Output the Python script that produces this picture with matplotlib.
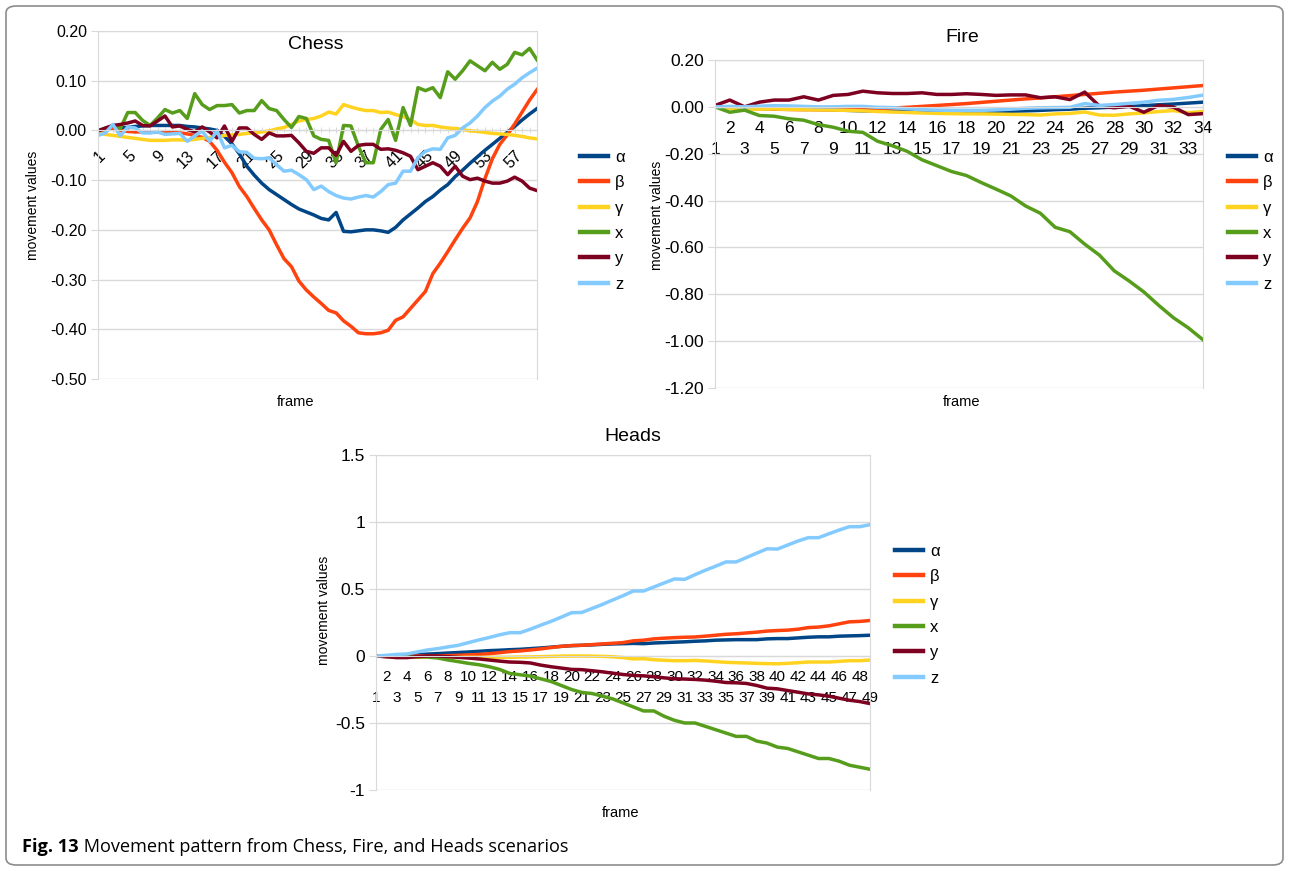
import numpy as np
import matplotlib.pyplot as plt
from matplotlib.patches import FancyBboxPatch

# Series names and colours
names = ['α', 'β', 'γ', 'x', 'y', 'z']
colors = ['#004586', '#ff420e', '#ffd320', '#579d1c', '#7e0021', '#83caff']

# Chess scenario, frames 1..60
chess_alpha = [0.0, 0.002, 0.004, 0.005, 0.006, 0.008, 0.009, 0.01, 0.01, 0.01,
               0.01, 0.01, 0.008, 0.007, 0.005, 0.003, 0.0, -0.012, -0.027, -0.047,
               -0.072, -0.09, -0.106, -0.119, -0.129, -0.139, -0.149, -0.158, -0.164, -0.17,
               -0.177, -0.18, -0.165, -0.203, -0.204, -0.202, -0.2, -0.2, -0.202, -0.205,
               -0.195, -0.18, -0.168, -0.156, -0.143, -0.133, -0.12, -0.109, -0.093, -0.08,
               -0.066, -0.053, -0.04, -0.028, -0.016, -0.004, 0.008, 0.021, 0.033, 0.044]
chess_beta = [0.0, 0.002, 0.003, 0.0, -0.002, -0.003, -0.003, -0.004, -0.003, -0.005,
              -0.004, -0.005, -0.007, -0.01, -0.014, -0.022, -0.04, -0.064, -0.085, -0.113,
              -0.133, -0.157, -0.18, -0.2, -0.23, -0.258, -0.274, -0.303, -0.321, -0.335,
              -0.348, -0.362, -0.367, -0.383, -0.394, -0.407, -0.409, -0.409, -0.407, -0.402,
              -0.382, -0.375, -0.358, -0.341, -0.324, -0.288, -0.267, -0.244, -0.22, -0.197,
              -0.176, -0.143, -0.097, -0.057, -0.028, -0.009, 0.013, 0.037, 0.061, 0.082]
chess_gamma = [-0.005, -0.008, -0.01, -0.012, -0.014, -0.016, -0.018, -0.02, -0.02, -0.02,
               -0.019, -0.019, -0.02, -0.018, -0.016, -0.014, -0.012, -0.01, -0.009, -0.008,
               -0.006, -0.005, -0.003, -0.001, 0.003, 0.006, 0.012, 0.019, 0.022, 0.024,
               0.029, 0.037, 0.033, 0.052, 0.047, 0.043, 0.04, 0.04, 0.036, 0.037,
               0.032, 0.028, 0.022, 0.012, 0.01, 0.01, 0.007, 0.005, 0.004, 0.002,
               -0.001, -0.002, -0.004, -0.006, -0.007, -0.008, -0.01, -0.012, -0.015, -0.017]
chess_x = [0.0, 0.004, 0.01, 0.004, 0.036, 0.036, 0.02, 0.01, 0.025, 0.042,
           0.035, 0.04, 0.024, 0.074, 0.052, 0.042, 0.05, 0.05, 0.052, 0.035,
           0.04, 0.04, 0.06, 0.044, 0.04, 0.022, 0.006, 0.028, 0.024, -0.011,
           -0.018, -0.02, -0.065, 0.01, 0.009, -0.032, -0.065, -0.065, 0.002, 0.022,
           -0.02, 0.046, 0.01, 0.086, 0.08, 0.086, 0.066, 0.118, 0.103, 0.12,
           0.14, 0.13, 0.12, 0.137, 0.123, 0.133, 0.157, 0.152, 0.165, 0.142]
chess_y = [-0.001, 0.005, 0.01, 0.012, 0.015, 0.019, 0.01, 0.009, 0.019, 0.029,
           0.007, 0.009, 0.002, -0.003, 0.007, -0.003, -0.015, 0.009, -0.022, 0.005,
           0.005, -0.008, -0.018, -0.005, -0.011, -0.011, -0.01, -0.025, -0.042, -0.046,
           -0.035, -0.035, -0.05, -0.022, -0.042, -0.03, -0.028, -0.028, -0.038, -0.037,
           -0.04, -0.045, -0.052, -0.079, -0.072, -0.065, -0.072, -0.089, -0.072, -0.092,
           -0.099, -0.096, -0.102, -0.106, -0.106, -0.102, -0.094, -0.102, -0.116, -0.121]
chess_z = [-0.01, -0.005, 0.012, -0.011, 0.007, 0.005, -0.005, -0.005, -0.003, -0.008,
           -0.007, -0.006, -0.022, -0.011, -0.001, -0.022, -0.001, -0.035, -0.03, -0.043,
           -0.044, -0.056, -0.057, -0.055, -0.069, -0.082, -0.08, -0.089, -0.099, -0.119,
           -0.112, -0.123, -0.131, -0.136, -0.138, -0.134, -0.131, -0.134, -0.123, -0.109,
           -0.106, -0.082, -0.082, -0.055, -0.042, -0.037, -0.038, -0.015, -0.01, 0.005,
           0.015, 0.029, 0.046, 0.059, 0.069, 0.083, 0.093, 0.106, 0.116, 0.125]

# Fire scenario, frames 1..34
fire_alpha = [0.0, 0.0, -0.002, -0.004, -0.005, -0.007, -0.009, -0.011, -0.013, -0.015,
              -0.017, -0.018, -0.019, -0.02, -0.02, -0.021, -0.021, -0.021, -0.021, -0.02,
              -0.019, -0.017, -0.015, -0.012, -0.01, -0.006, -0.004, -0.001, 0.002, 0.005,
              0.009, 0.012, 0.016, 0.02]
fire_beta = [0.0, -0.003, -0.006, -0.008, -0.01, -0.011, -0.012, -0.012, -0.012, -0.011,
             -0.01, -0.008, -0.005, -0.002, 0.002, 0.006, 0.01, 0.014, 0.019, 0.024,
             0.029, 0.034, 0.038, 0.043, 0.048, 0.053, 0.058, 0.063, 0.067, 0.071,
             0.076, 0.081, 0.086, 0.091]
fire_gamma = [0.0, -0.006, -0.01, -0.01, -0.009, -0.011, -0.012, -0.013, -0.014, -0.015,
              -0.017, -0.02, -0.022, -0.024, -0.026, -0.028, -0.029, -0.03, -0.03, -0.031,
              -0.032, -0.033, -0.035, -0.03, -0.028, -0.022, -0.035, -0.036, -0.03, -0.026,
              -0.02, -0.016, -0.025, -0.02]
fire_x = [0.0, -0.023, -0.014, -0.037, -0.04, -0.051, -0.057, -0.076, -0.087, -0.104,
          -0.109, -0.147, -0.166, -0.19, -0.226, -0.251, -0.276, -0.293, -0.323, -0.351,
          -0.38, -0.423, -0.454, -0.514, -0.533, -0.586, -0.633, -0.7, -0.743, -0.79,
          -0.847, -0.9, -0.943, -0.994]
fire_y = [0.006, 0.029, 0.0, 0.02, 0.029, 0.029, 0.043, 0.029, 0.049, 0.053,
          0.067, 0.06, 0.057, 0.057, 0.06, 0.053, 0.053, 0.056, 0.053, 0.049,
          0.051, 0.051, 0.039, 0.043, 0.031, 0.063, 0.003, -0.004, 0.003, -0.023,
          0.006, -0.001, -0.033, -0.029]
fire_z = [0.0, 0.002, 0.0, 0.003, 0.005, 0.004, 0.002, 0.0, 0.0, 0.002,
          0.002, -0.002, -0.003, -0.008, -0.012, -0.014, -0.015, -0.015, -0.015, -0.013,
          -0.01, -0.006, -0.004, -0.003, -0.002, 0.014, 0.006, 0.01, 0.015, 0.02,
          0.028, 0.032, 0.04, 0.05]

# Heads scenario, frames 1..49
heads_alpha = [0.0, 0.0, 0.002, 0.005, 0.01, 0.014, 0.018, 0.022, 0.026, 0.03,
               0.035, 0.04, 0.043, 0.047, 0.05, 0.055, 0.06, 0.066, 0.072, 0.077,
               0.08, 0.083, 0.087, 0.09, 0.092, 0.094, 0.092, 0.097, 0.1, 0.103,
               0.106, 0.11, 0.113, 0.118, 0.12, 0.122, 0.122, 0.122, 0.128, 0.13,
               0.13, 0.135, 0.14, 0.143, 0.143, 0.148, 0.15, 0.152, 0.155]
heads_beta = [0.0, -0.005, -0.005, -0.003, 0.0, 0.0, 0.002, 0.003, 0.005, 0.008,
              0.012, 0.017, 0.025, 0.033, 0.038, 0.045, 0.053, 0.063, 0.072, 0.078,
              0.08, 0.085, 0.09, 0.095, 0.1, 0.113, 0.118, 0.128, 0.133, 0.137,
              0.14, 0.142, 0.148, 0.155, 0.162, 0.166, 0.172, 0.178, 0.186, 0.19,
              0.193, 0.2, 0.212, 0.216, 0.225, 0.24, 0.255, 0.258, 0.265]
heads_gamma = [0.0, -0.003, -0.006, -0.008, -0.01, -0.01, -0.01, -0.01, -0.01, -0.01,
               -0.01, -0.01, -0.01, -0.01, -0.008, -0.007, -0.005, -0.003, -0.001, 0.0,
               0.0, -0.001, -0.003, -0.006, -0.012, -0.022, -0.02, -0.028, -0.032, -0.035,
               -0.035, -0.033, -0.037, -0.042, -0.047, -0.05, -0.052, -0.055, -0.057, -0.058,
               -0.055, -0.05, -0.045, -0.045, -0.045, -0.04, -0.035, -0.035, -0.03]
heads_x = [0.0, -0.002, -0.004, -0.005, -0.006, -0.008, -0.015, -0.03, -0.042, -0.055,
           -0.065, -0.08, -0.1, -0.13, -0.14, -0.15, -0.17, -0.19, -0.22, -0.25,
           -0.272, -0.28, -0.3, -0.32, -0.35, -0.38, -0.41, -0.41, -0.45, -0.48,
           -0.5, -0.5, -0.525, -0.55, -0.575, -0.6, -0.6, -0.635, -0.65, -0.68,
           -0.69, -0.715, -0.74, -0.765, -0.765, -0.785, -0.815, -0.83, -0.845]
heads_y = [0.0, -0.005, -0.012, -0.012, -0.005, 0.0, 0.0, -0.005, -0.01, -0.015,
           -0.022, -0.03, -0.038, -0.045, -0.047, -0.052, -0.068, -0.08, -0.09, -0.1,
           -0.102, -0.11, -0.118, -0.128, -0.138, -0.145, -0.148, -0.155, -0.163, -0.17,
           -0.172, -0.175, -0.18, -0.188, -0.198, -0.2, -0.205, -0.22, -0.24, -0.245,
           -0.258, -0.27, -0.283, -0.29, -0.3, -0.315, -0.33, -0.34, -0.355]
heads_z = [0.0, 0.005, 0.012, 0.015, 0.03, 0.045, 0.055, 0.068, 0.08, 0.1,
           0.12, 0.138, 0.158, 0.174, 0.174, 0.2, 0.23, 0.258, 0.29, 0.323,
           0.325, 0.355, 0.385, 0.418, 0.45, 0.485, 0.485, 0.515, 0.545, 0.575,
           0.572, 0.607, 0.64, 0.67, 0.702, 0.702, 0.735, 0.768, 0.8, 0.798,
           0.828, 0.858, 0.883, 0.883, 0.912, 0.94, 0.965, 0.965, 0.98]

chess_yticks = [-0.5, -0.4, -0.3, -0.2, -0.1, 0.0, 0.1, 0.2]
fire_yticks = [-1.2, -1.0, -0.8, -0.6, -0.4, -0.2, 0.0, 0.2]
heads_yticks = [-1, -0.5, 0, 0.5, 1, 1.5]
heads_ylabels = ['-1', '-0.5', '0', '0.5', '1', '1.5']

grid_col = '#d9d9d9'
font_reg = ['Liberation Sans', 'DejaVu Sans']
font_cap = ['Open Sans', 'DejaVu Sans']
LW = 2.5

W, H = 1289, 871
fig = plt.figure(figsize=(W / 100, H / 100), dpi=100)


def px_axes(left, top, right, bottom):
    # axes from a pixel box of the picture
    return fig.add_axes([left / W, 1 - bottom / H, (right - left) / W, (bottom - top) / H])


def style_axes(ax, yticks, ylabels, tick_size):
    for side in ['left', 'right', 'top']:
        ax.spines[side].set_color(grid_col)
    ax.spines['bottom'].set_position(('data', 0))
    ax.spines['bottom'].set_color(grid_col)
    ax.set_yticks(yticks)
    ax.set_yticklabels(ylabels, fontfamily=font_reg, fontsize=tick_size)
    ax.tick_params(axis='y', length=5, color=grid_col, pad=3)
    ax.yaxis.grid(True, color=grid_col, linewidth=1)
    ax.set_axisbelow(True)


def add_legend(x_left, y_top):
    handles = [plt.Line2D([], [], color=c, lw=3.2) for c in colors]
    fig.legend(handles, names, loc='upper left', frameon=False,
               bbox_to_anchor=(x_left / W, 1 - y_top / H), bbox_transform=fig.transFigure,
               handlelength=1.7, handletextpad=0.4, labelspacing=0.62, borderaxespad=0,
               borderpad=0, prop={'family': font_reg, 'size': 12})


def staggered_labels(ax, frames, size):
    # even frames on the first row, odd frames on the second row
    ax.set_xticks(frames[1::2])
    ax.set_xticklabels([str(f) for f in frames[1::2]], fontfamily=font_reg, fontsize=size)
    ax.set_xticks(frames[0::2], minor=True)
    ax.set_xticklabels([str(f) for f in frames[0::2]], minor=True, fontfamily=font_reg, fontsize=size)
    ax.tick_params(axis='x', which='major', length=0, pad=10)
    ax.tick_params(axis='x', which='minor', length=0, pad=25)


# ---- Chess ----
ax1 = px_axes(98, 31, 537, 379)
frames_c = np.arange(1, len(chess_alpha) + 1)
for vals, c in zip([chess_alpha, chess_beta, chess_gamma, chess_x, chess_y, chess_z], colors):
    ax1.plot(frames_c, vals, color=c, lw=LW, solid_joinstyle='round')
ax1.set_xlim(1, len(frames_c))
ax1.set_ylim(-0.5, 0.2)
style_axes(ax1, chess_yticks, ['%.2f' % v for v in chess_yticks], 11.5)
ax1.set_xticks(frames_c[::4])
ax1.set_xticklabels([str(f) for f in frames_c[::4]], rotation=45, ha='right', va='top',
                    rotation_mode='anchor', fontfamily=font_reg, fontsize=11.5)
ax1.set_xticks(frames_c, minor=True)
ax1.tick_params(axis='x', which='both', length=5, direction='inout', color=grid_col, pad=10)
ax1.text(0.495, 0.985, 'Chess', transform=ax1.transAxes, ha='center', va='top',
         fontfamily=font_reg, fontsize=14)
fig.text(33 / W, 1 - 205 / H, 'movement values', rotation=90, ha='center', va='center',
         fontfamily=font_reg, fontsize=10)
fig.text(296 / W, 1 - 402 / H, 'frame', ha='center', va='center',
         fontfamily=font_reg, fontsize=10.5)
add_legend(580, 150)

# ---- Fire ----
ax2 = px_axes(715, 60, 1203, 388)
frames_f = np.arange(1, len(fire_alpha) + 1)
for vals, c in zip([fire_alpha, fire_beta, fire_gamma, fire_x, fire_y, fire_z], colors):
    ax2.plot(frames_f, vals, color=c, lw=LW, solid_joinstyle='round')
ax2.set_xlim(1, len(frames_f))
ax2.set_ylim(-1.2, 0.2)
style_axes(ax2, fire_yticks, ['%.2f' % v for v in fire_yticks], 12.5)
staggered_labels(ax2, frames_f, 12.5)
fig.text(962 / W, 1 - 38 / H, 'Fire', ha='center', va='center', fontfamily=font_reg, fontsize=14)
fig.text(657 / W, 1 - 215 / H, 'movement values', rotation=90, ha='center', va='center',
         fontfamily=font_reg, fontsize=10)
fig.text(962 / W, 1 - 402 / H, 'frame', ha='center', va='center',
         fontfamily=font_reg, fontsize=10.5)
add_legend(1228, 150)

# ---- Heads ----
ax3 = px_axes(376, 455, 870, 790)
frames_h = np.arange(1, len(heads_alpha) + 1)
for vals, c in zip([heads_alpha, heads_beta, heads_gamma, heads_x, heads_y, heads_z], colors):
    ax3.plot(frames_h, vals, color=c, lw=LW, solid_joinstyle='round')
ax3.set_xlim(1, len(frames_h))
ax3.set_ylim(-1, 1.5)
style_axes(ax3, heads_yticks, heads_ylabels, 12.5)
staggered_labels(ax3, frames_h, 11)
fig.text(633 / W, 1 - 436 / H, 'Heads', ha='center', va='center', fontfamily=font_reg, fontsize=14)
fig.text(324 / W, 1 - 610 / H, 'movement values', rotation=90, ha='center', va='center',
         fontfamily=font_reg, fontsize=10)
fig.text(621 / W, 1 - 813 / H, 'frame', ha='center', va='center',
         fontfamily=font_reg, fontsize=10.5)
add_legend(895, 544)

# ---- caption and frame ----
t1 = fig.text(22 / W, 1 - 847 / H, 'Fig. 13', ha='left', va='center',
              fontfamily=font_cap, fontweight='bold', fontsize=13.1)
plt.annotate(' Movement pattern from Chess, Fire, and Heads scenarios', xy=(1, 0.5),
             xycoords=t1, ha='left', va='center',
             fontfamily=font_cap, fontsize=13.1, annotation_clip=False)

border = FancyBboxPatch((6 / W, 6 / H), 1 - 12 / W, 1 - 12 / H,
                        boxstyle='round,pad=0,rounding_size=0.008', transform=fig.transFigure,
                        fill=False, edgecolor='#8c8c8c', linewidth=1.2)
fig.patches.append(border)

plt.savefig('out.png', dpi=100)
